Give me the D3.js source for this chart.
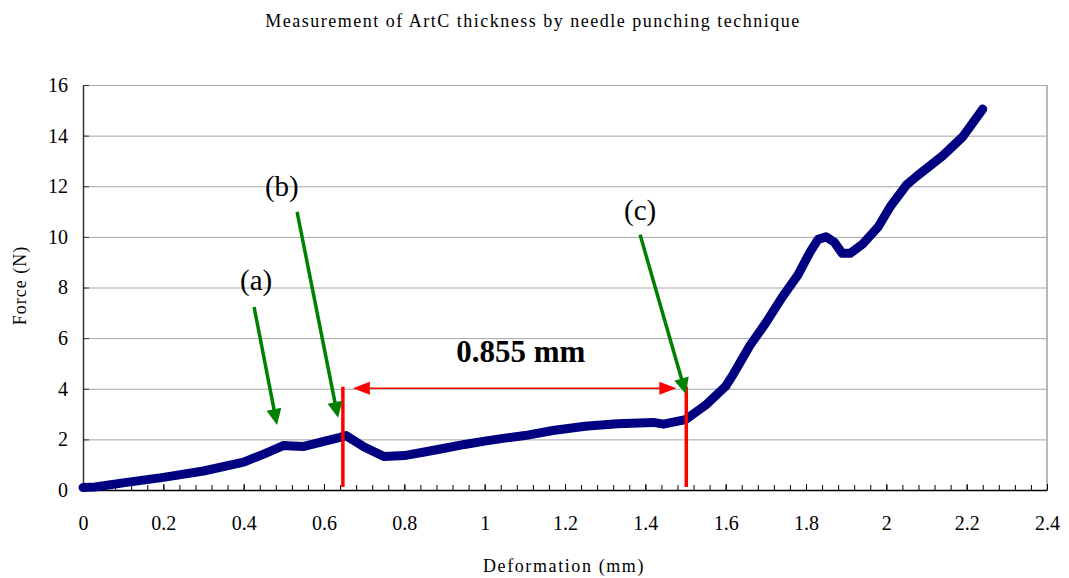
<!DOCTYPE html>
<html>
<head>
<meta charset="utf-8">
<script src="https://cdn.jsdelivr.net/npm/d3@7"></script>
<style>
  body { margin: 0; background: #fff; }
  text { font-family: "Liberation Serif", "Times New Roman", serif; fill: #000; }
</style>
</head>
<body>
<div id="chart"></div>
<script>
// Deformation (mm) and force (N)
var deformation = [0, 0.03, 0.1, 0.2, 0.3, 0.4, 0.45, 0.5, 0.52, 0.55, 0.6, 0.64, 0.655, 0.7, 0.75,
    0.8, 0.85, 0.9, 0.95, 1.0, 1.05, 1.1, 1.17, 1.25, 1.33, 1.42, 1.445, 1.5, 1.55, 1.6, 1.62,
    1.66, 1.7, 1.74, 1.78, 1.81, 1.83, 1.85, 1.87, 1.89, 1.91, 1.94, 1.98, 2.01, 2.05, 2.076,
    2.14, 2.19, 2.24];
var force = [0.1, 0.12, 0.28, 0.5, 0.75, 1.1, 1.42, 1.76, 1.74, 1.72, 1.92, 2.08, 2.15, 1.7, 1.32,
    1.36, 1.5, 1.65, 1.8, 1.93, 2.05, 2.15, 2.35, 2.52, 2.62, 2.67, 2.6, 2.78, 3.35, 4.1, 4.6,
    5.7, 6.6, 7.6, 8.5, 9.4, 9.9, 10.0, 9.8, 9.35, 9.35, 9.7, 10.4, 11.2, 12.05, 12.4,
    13.2, 13.95, 15.05];

var xTicks = [0, 0.2, 0.4, 0.6, 0.8, 1, 1.2, 1.4, 1.6, 1.8, 2, 2.2, 2.4];
var yTicks = [0, 2, 4, 6, 8, 10, 12, 14, 16];
var xMinorTicks = d3.range(0, 2.4001, 0.04);

// annotation positions, in data units
var thicknessStart = 0.647,
    thicknessEnd = 1.502,
    thicknessLabel = '0.855 mm';
var pointLabels = ['(a)', '(b)', '(c)'];
var pointLabelPos = [[0.431, 7.9], [0.495, 11.62], [1.387, 10.67]];
var pointArrows = [
    [[0.426, 7.23], [0.483, 2.57]],
    [[0.533, 10.99], [0.635, 2.85]],
    [[1.387, 10.08], [1.501, 3.79]]
];

var W = 1069, H = 578,
    margin = {left: 83, right: 22, top: 85, bottom: 88},
    width = W - margin.left - margin.right,
    height = H - margin.top - margin.bottom;

var svg = d3.select('#chart').append('svg')
    .attr('width', W)
    .attr('height', H);

svg.append('text')
    .attr('x', 533)
    .attr('y', 27)
    .attr('text-anchor', 'middle')
    .style('font-size', '18px')
    .style('letter-spacing', '1.5px')
    .text('Measurement of ArtC thickness by needle punching technique');

var chart = svg.append('g')
    .attr('transform', 'translate(' + margin.left + ',' + margin.top + ')');

var xScale = d3.scaleLinear().domain([0, 2.4]).range([0, width]);
var yScale = d3.scaleLinear().domain([0, 16]).range([height, 0]);
var fmt = d3.format('~g');

// horizontal grid
chart.append('g')
    .attr('class', 'grid')
    .call(d3.axisLeft(yScale).tickValues(yTicks).tickSize(-width).tickFormat(''))
    .call(function(g) {
        g.select('.domain').remove();
        g.selectAll('line').attr('stroke', '#a6a6a6').attr('stroke-width', 1);
    });

// right border
chart.append('line')
    .attr('x1', width).attr('x2', width)
    .attr('y1', 0).attr('y2', height)
    .attr('stroke', '#a0a0a0').attr('stroke-width', 1.5);

// y axis
chart.append('g')
    .call(d3.axisLeft(yScale).tickValues(yTicks).tickFormat(fmt)
        .tickSizeInner(-6).tickSizeOuter(0).tickPadding(15))
    .call(function(g) {
        g.select('.domain').attr('stroke', '#333').attr('stroke-width', 1.5);
        g.selectAll('line').attr('stroke', '#333');
        g.selectAll('text').style('font-size', '20px')
            .style('font-family', '"Liberation Serif", serif');
    });

// x axis
chart.append('g')
    .attr('transform', 'translate(0,' + height + ')')
    .call(d3.axisBottom(xScale).tickValues(xTicks).tickFormat(fmt)
        .tickSizeInner(-6).tickSizeOuter(0).tickPadding(26))
    .call(function(g) {
        g.select('.domain').attr('stroke', '#000').attr('stroke-width', 1.5);
        g.selectAll('line').attr('stroke', '#000');
        g.selectAll('text').style('font-size', '20px')
            .style('font-family', '"Liberation Serif", serif');
    });

// x minor ticks
chart.append('g')
    .attr('transform', 'translate(0,' + height + ')')
    .call(d3.axisBottom(xScale).tickValues(xMinorTicks).tickSize(-5).tickFormat(''))
    .call(function(g) {
        g.select('.domain').remove();
        g.selectAll('line').attr('stroke', '#000');
    });

// axis titles
svg.append('text')
    .attr('transform', 'translate(26,' + (margin.top + height / 2 - 2) + ') rotate(-90)')
    .attr('text-anchor', 'middle')
    .style('font-size', '18px')
    .style('letter-spacing', '1px')
    .text('Force (N)');

svg.append('text')
    .attr('x', 564)
    .attr('y', 572)
    .attr('text-anchor', 'middle')
    .style('font-size', '18px')
    .style('letter-spacing', '1.6px')
    .text('Deformation (mm)');

// curve
var line = d3.line()
    .x(function(d, i) { return xScale(deformation[i]); })
    .y(function(d) { return yScale(d); });

chart.append('path')
    .datum(force)
    .attr('d', line)
    .attr('fill', 'none')
    .attr('stroke', '#000080')
    .attr('stroke-width', 9)
    .attr('stroke-linejoin', 'round')
    .attr('stroke-linecap', 'round');

// arrowhead polygon at (x2,y2) pointing along (x1,y1)->(x2,y2)
function arrowHead(x1, y1, x2, y2, len, half) {
    var dx = x2 - x1, dy = y2 - y1, l = Math.sqrt(dx * dx + dy * dy),
        ux = dx / l, uy = dy / l,
        bx = x2 - ux * len, by = y2 - uy * len;
    return [[x2, y2], [bx - uy * half, by + ux * half], [bx + uy * half, by - ux * half]];
}

// red thickness markers
[thicknessStart, thicknessEnd].forEach(function(v) {
    chart.append('line')
        .attr('x1', xScale(v)).attr('x2', xScale(v))
        .attr('y1', yScale(0.12)).attr('y2', yScale(4.08))
        .attr('stroke', '#ff0000').attr('stroke-width', 3.5);
});

var ax1 = xScale(thicknessStart) + 10, ax2 = xScale(thicknessEnd) - 10, ay = yScale(4.02);
chart.append('line')
    .attr('x1', ax1 + 12).attr('x2', ax2 - 12)
    .attr('y1', ay).attr('y2', ay)
    .attr('stroke', '#ff0000').attr('stroke-width', 1.5);
chart.append('polygon')
    .attr('points', arrowHead(ax2, ay, ax1, ay, 17, 6.5).join(' '))
    .attr('fill', '#ff0000');
chart.append('polygon')
    .attr('points', arrowHead(ax1, ay, ax2, ay, 17, 6.5).join(' '))
    .attr('fill', '#ff0000');

chart.append('text')
    .attr('x', xScale(1.09))
    .attr('y', yScale(5.06))
    .attr('text-anchor', 'middle')
    .style('font-size', '31px')
    .style('font-weight', 'bold')
    .text(thicknessLabel);

// green arrows and labels
pointArrows.forEach(function(a) {
    var x1 = xScale(a[0][0]), y1 = yScale(a[0][1]),
        x2 = xScale(a[1][0]), y2 = yScale(a[1][1]),
        head = arrowHead(x1, y1, x2, y2, 16, 7.5),
        l = Math.sqrt((x2 - x1) * (x2 - x1) + (y2 - y1) * (y2 - y1));
    chart.append('line')
        .attr('x1', x1).attr('y1', y1)
        .attr('x2', x2 - (x2 - x1) / l * 12).attr('y2', y2 - (y2 - y1) / l * 12)
        .attr('stroke', '#008000').attr('stroke-width', 3.5);
    chart.append('polygon')
        .attr('points', head.join(' '))
        .attr('fill', '#008000');
});

chart.selectAll('.plabel')
    .data(pointLabels)
    .enter()
    .append('text')
    .attr('class', 'plabel')
    .attr('x', function(d, i) { return xScale(pointLabelPos[i][0]); })
    .attr('y', function(d, i) { return yScale(pointLabelPos[i][1]); })
    .attr('text-anchor', 'middle')
    .style('font-size', '29px')
    .text(function(d) { return d; });
</script>
</body>
</html>
